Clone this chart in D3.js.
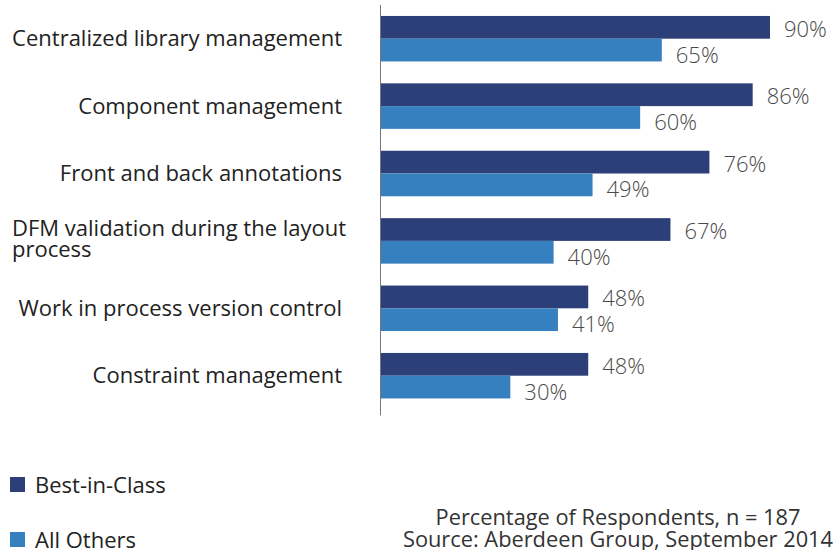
<!DOCTYPE html>
<html>
<head>
<meta charset="utf-8">
<script src="https://cdn.jsdelivr.net/npm/d3@7"></script>
<style>
  body { margin: 0; background: #fff; }
  text { font-family: "Open Sans", sans-serif; }
</style>
</head>
<body>
<script>
// chart data
var categories = [
  "Centralized library management",
  "Component management",
  "Front and back annotations",
  "DFM validation during the layout process",
  "Work in process version control",
  "Constraint management"
];
var seriesNames = ["Best-in-Class", "All Others"];
var bestInClass = [90, 86, 76, 67, 48, 48];
var allOthers = [65, 60, 49, 40, 41, 30];
var footnotes = ["Percentage of Respondents, n = 187", "Source: Aberdeen Group, September 2014"];

var colors = ["#2c3f78", "#3680c0"];

var svgWidth = 838;
var svgHeight = 550;

var svg = d3.select("body")
  .append("svg")
  .attr("width", svgWidth)
  .attr("height", svgHeight);

// scales
var axisX = 380.5;
var xScale = d3.scaleLinear()
  .domain([0, 90])
  .range([axisX, 770]);

var yScale = d3.scaleBand()
  .domain(categories)
  .range([5, 409.4])
  .paddingInner(0.325)
  .paddingOuter(0.1625);

var ySub = d3.scaleBand()
  .domain([0, 1])
  .range([0, yScale.bandwidth()]);

// rows of data
var rows = categories.map(function(c, i) {
  return { name: c, values: [bestInClass[i], allOthers[i]] };
});

var groups = svg.selectAll(".group")
  .data(rows)
  .enter()
  .append("g")
  .attr("transform", d => `translate(0, ${yScale(d.name)})`);

groups.selectAll("rect")
  .data(d => d.values)
  .enter()
  .append("rect")
  .attr("x", xScale(0))
  .attr("y", (d, i) => ySub(i))
  .attr("width", d => xScale(d) - xScale(0))
  .attr("height", ySub.bandwidth())
  .attr("fill", (d, i) => colors[i]);

// value labels
var labelShift = [9.5, 12.5];
groups.selectAll(".val")
  .data(d => d.values)
  .enter()
  .append("text")
  .attr("x", d => xScale(d) + 14)
  .attr("y", (d, i) => ySub(i) + ySub.bandwidth() / 2 + labelShift[i])
  .attr("font-size", "22px")
  .attr("font-weight", 300)
  .attr("fill", "#4a4a4a")
  .text(d => d + "%");

// category labels
groups.each(function(d) {
  var g = d3.select(this);
  var mid = yScale.bandwidth() / 2;
  if (d.name.indexOf("DFM") === 0) {
    var t = g.append("text")
      .attr("x", 12)
      .attr("font-size", "22px")
      .attr("fill", "#222");
    t.append("tspan").attr("x", 12).attr("y", mid - 4.5).text("DFM validation during the layout");
    t.append("tspan").attr("x", 12).attr("y", mid + 16).text("process");
  } else {
    g.append("text")
      .attr("x", 342)
      .attr("y", mid + 7.5)
      .attr("text-anchor", "end")
      .attr("font-size", "22px")
      .attr("fill", "#222")
      .text(d.name);
  }
});

// vertical axis line
svg.append("line")
  .attr("x1", axisX)
  .attr("x2", axisX)
  .attr("y1", yScale.range()[0])
  .attr("y2", yScale.range()[1] + 6)
  .attr("stroke", "#777")
  .attr("stroke-width", 1);

// legend
var legend = svg.selectAll(".legend")
  .data(seriesNames)
  .enter()
  .append("g")
  .attr("transform", (d, i) => `translate(10, ${477 + i * 55})`);

legend.append("rect")
  .attr("width", 15)
  .attr("height", 15)
  .attr("fill", (d, i) => colors[i]);

legend.append("text")
  .attr("x", 25)
  .attr("y", 16)
  .attr("font-size", "22px")
  .attr("fill", "#222")
  .text(d => d);

// footnote
svg.selectAll(".foot")
  .data(footnotes)
  .enter()
  .append("text")
  .attr("x", 618)
  .attr("y", (d, i) => 525 + i * 22)
  .attr("text-anchor", "middle")
  .attr("font-size", "21.8px")
  .attr("fill", "#333")
  .text(d => d);
</script>
</body>
</html>
